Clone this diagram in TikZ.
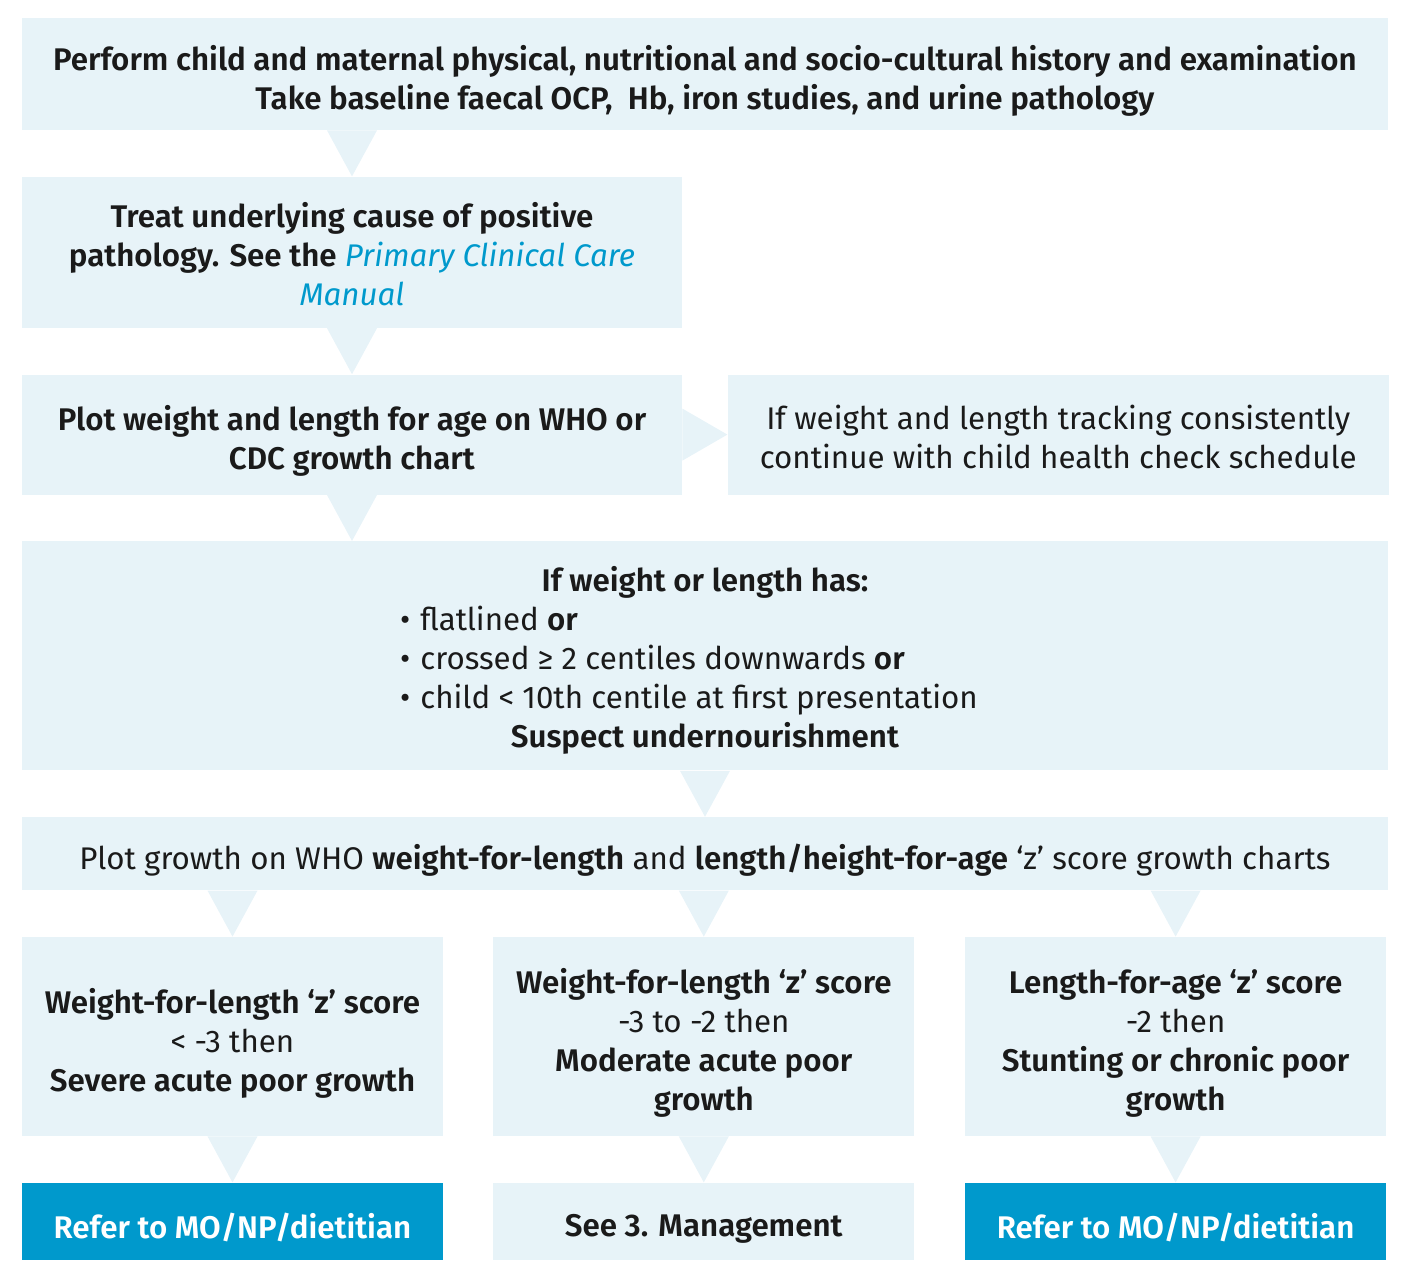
\documentclass[tikz,border=0pt]{standalone}
\usepackage{fontspec}
\setmainfont{Fira Sans}[BoldFont={Fira Sans SemiBold},BoldItalicFont={Fira Sans SemiBold Italic}]
\usetikzlibrary{positioning,calc}

\definecolor{boxbg}{HTML}{E7F3F8}
\definecolor{referbg}{HTML}{0099CC}
\definecolor{ink}{HTML}{1A1A1A}
\definecolor{linkblue}{HTML}{0099CC}
\newcommand\tallstrut{\rule{0pt}{19pt}}
\newcommand\midstrut{\rule{0pt}{14.5pt}}

\begin{document}
\begin{tikzpicture}[
  x=0.5pt, y=-0.5pt,
  every node/.style={font=\fontsize{15.65}{19.5}\selectfont, text=ink},
  stage/.style={rectangle, fill=boxbg, align=center, inner sep=0pt},
  refer/.style={rectangle, fill=referbg, align=center, inner sep=0pt, text=white, font=\fontsize{15.65}{19.5}\selectfont\bfseries},
  pointer/.style={fill=boxbg}
]
\useasboundingbox (0,0) rectangle (1408,1284);

\node[stage, minimum width=683pt, minimum height=56pt] (top) at (705,74)
  {\tallstrut\textbf{Perform child and maternal physical, nutritional and socio-cultural history and examination}\\
   \textbf{Take baseline faecal OCP,\ \ Hb, iron studies, and urine pathology}};
\node[stage, minimum width=330pt, minimum height=75.5pt, below=23pt of top.south west, anchor=north west] (treat)
  {\midstrut\textbf{Treat underlying cause of positive}\\
   \textbf{pathology. See the} {\color{linkblue}\itshape Primary Clinical Care}\\
   {\color{linkblue}\itshape Manual}};
\node[stage, minimum width=330pt, minimum height=60pt, below=23pt of treat.south west, anchor=north west] (plot)
  {\tallstrut\textbf{Plot weight and length for age on WHO or}\\ \textbf{CDC growth chart}};
\node[stage, minimum width=330.5pt, minimum height=60pt, right=22.5pt of plot] (track)
  {\midstrut If weight and length tracking consistently\\ continue with child health check schedule};
\node[stage, minimum width=683pt, minimum height=114.5pt, below=23pt of plot.south west, anchor=north west] (suspect)
  {\begin{tabular}{@{}c@{}}
   \tallstrut\textbf{If weight or length has:}\\
   \begin{tabular}{@{}l@{}}
   •\hspace{5pt}flatlined \textbf{or}\\
   •\hspace{5pt}crossed ≥ 2 centiles downwards \textbf{or}\\
   •\hspace{5pt}child < 10th centile at first presentation
   \end{tabular}\hspace*{16pt}\\
   \textbf{Suspect undernourishment}
   \end{tabular}};
\node[stage, minimum width=683pt, minimum height=36.5pt, below=23pt of suspect] (growth)
  {\tallstrut Plot growth on WHO \textbf{weight-for-length} and \textbf{length/height-for-age} ‘z’ score growth charts};

% z score outcomes
\node[stage, minimum width=210.5pt, minimum height=99.5pt, below=23pt of growth.south west, anchor=north west] (wfl1)
  {\tallstrut\textbf{Weight-for-length ‘z’ score}\\ < -3 then\\ \textbf{Severe acute poor growth}};
\node[stage, minimum width=210.5pt, minimum height=99.5pt, right=24.75pt of wfl1] (wfl2)
  {\tallstrut\textbf{Weight-for-length ‘z’ score}\\ -3 to -2 then\\ \textbf{Moderate acute poor}\\ \textbf{growth}};
\node[stage, minimum width=210.5pt, minimum height=99.5pt, right=25pt of wfl2] (hfa)
  {\tallstrut\textbf{Length-for-age ‘z’ score}\\ -2 then\\ \textbf{Stunting or chronic poor}\\ \textbf{growth}};

% actions
\node[refer, minimum width=210.5pt, minimum height=38.5pt, below=23pt of wfl1] (refer1) {\tallstrut Refer to MO/NP/dietitian};
\node[stage, minimum width=210.5pt, minimum height=38.5pt, below=23pt of wfl2] (seemgmt) {\tallstrut\textbf{See 3. Management}};
\node[refer, minimum width=210.5pt, minimum height=38.5pt, below=23pt of hfa] (refer2) {\tallstrut Refer to MO/NP/dietitian};

% Pointers
\foreach \a/\b in {top/treat, treat/plot, suspect/growth, growth/wfl1, growth/wfl2, growth/hfa, wfl1/refer1, wfl2/seemgmt, hfa/refer2}
  \fill[pointer] ($(\b.north |- \a.south)+(-12.5pt,0)$) -- ($(\b.north |- \a.south)+(12.5pt,0)$) -- (\b.north) -- cycle;
\fill[pointer] ($(plot.south)+(-12.5pt,0)$) -- ($(plot.south)+(12.5pt,0)$) -- (plot.south |- suspect.north) -- cycle;
\fill[pointer] ($(plot.east)+(0,13pt)$) -- ($(plot.east)+(0,-13pt)$) -- (track.west) -- cycle;

\end{tikzpicture}
\end{document}
